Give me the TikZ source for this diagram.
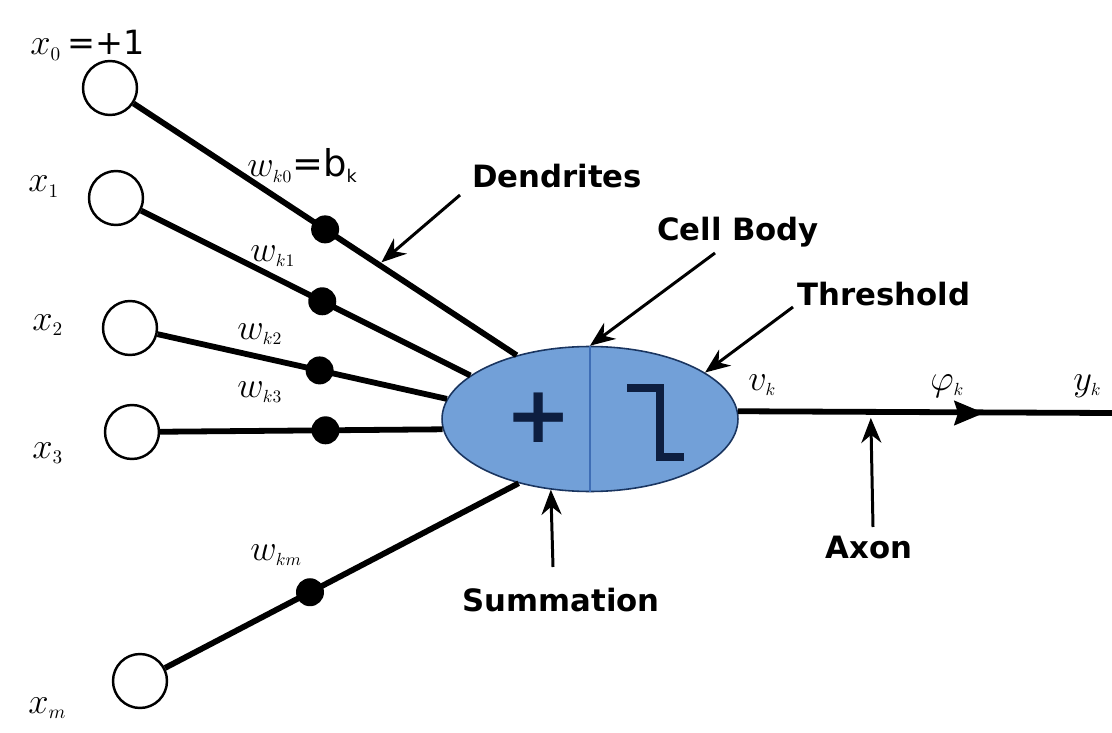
\documentclass[tikz,border=0pt]{standalone}
\usepackage{fontspec}
\setsansfont{DejaVu Sans}
\usetikzlibrary{shapes.geometric,arrows.meta}
\definecolor{cellfill}{HTML}{72A0D8}
\definecolor{celledge}{HTML}{1A3560}
\definecolor{celldiv}{HTML}{3E6DB5}
\definecolor{navy}{HTML}{0D1E40}
\begin{document}
\begin{tikzpicture}[x=0.02cm,y=-0.02cm,
  inp/.style={circle,draw,line width=1.4pt,minimum size=1.08cm,inner sep=0pt},
  wdot/.style={circle,fill=black,minimum size=0.56cm,inner sep=0pt},
  dend/.style={line width=3.3pt},
  lbl/.style={font=\sffamily\bfseries\fontsize{17.5}{20}\selectfont,inner sep=0pt},
  ann/.style={line width=1.7pt,-{Stealth[length=0.5cm,width=0.4cm]}},
  mlbl/.style={font=\fontsize{22}{26}\selectfont,anchor=base west,inner sep=0pt},
  wlbl/.style={font=\fontsize{20}{24}\selectfont,anchor=base west,inner sep=0pt}]
\useasboundingbox (0,0) rectangle (1112,733);
\fill[white] (0,0) rectangle (1112,733);

% input neurons
\node[inp] (in0) at (110,88) {};
\node[inp] (in1) at (116,198) {};
\node[inp] (in2) at (130,328) {};
\node[inp] (in3) at (132,432) {};
\node[inp] (inm) at (140,681) {};

% cell body
\node[ellipse,fill=cellfill,draw=celledge,line width=0.9pt,
      minimum width=5.92cm,minimum height=2.9cm,inner sep=0pt] (cell) at (590,419) {};
\draw[celldiv,line width=0.8pt] (cell.north) -- (cell.south);
\node[text=navy,font=\sffamily\bfseries\fontsize{45}{45}\selectfont,inner sep=0pt] (plus) at (539,418) {+};
\draw[navy,line width=5pt,line join=miter] (627,388) -- (660,388) -- (660,457) -- (684,457);

% dendrites with weights
\draw[dend] (in0) -- node[wdot,pos=0.50] (d0) {} coordinate[pos=0.64] (dtip) (cell.139);
\draw[dend] (in1) -- node[wdot,pos=0.55] (d1) {} (cell.160);
\draw[dend] (in2) -- node[wdot,pos=0.56] (d2) {} (cell.172);
\draw[dend] (in3) -- node[wdot,pos=0.585] (d3) {} (cell.184);
\draw[dend] (inm) -- node[wdot,pos=0.41] (dm) {} (cell.222);

% axon
\coordinate (axbase) at (950,413);
\coordinate (axmid) at (984,413);
\coordinate (yend) at (1112,413);
\draw[dend] (cell.3) -- coordinate[pos=0.355] (axtip) (yend);
\draw[line width=1pt,-{Stealth[length=0.6cm,width=0.5cm,inset=0.08cm]}] (axbase) -- (axmid);

% input labels
\node[mlbl] (lx0) at (30,55) {$x_{\scriptscriptstyle 0}$\,{\sffamily\fontsize{19}{22}\selectfont =+1}};
\node[mlbl] (lx1) at (28,192) {$x_{\scriptscriptstyle 1}$};
\node[mlbl] (lx2) at (32,330) {$x_{\scriptscriptstyle 2}$};
\node[mlbl] (lx3) at (32,458) {$x_{\scriptscriptstyle 3}$};
\node[mlbl] (lxm) at (28,713) {$x_{\scriptscriptstyle m}$};

% weight labels
\node[wlbl] (lw0) at (247,177) {$w_{\scriptscriptstyle k0}${\sffamily\fontsize{21}{24}\selectfont =b}$_{\scriptscriptstyle\mathsf{k}}$};
\node[wlbl] (lw1) at (250,261) {$w_{\scriptscriptstyle k1}$};
\node[wlbl] (lw2) at (237,339) {$w_{\scriptscriptstyle k2}$};
\node[wlbl] (lw3) at (237,397) {$w_{\scriptscriptstyle k3}$};
\node[wlbl] (lwm) at (250,560) {$w_{\scriptscriptstyle km}$};

% output labels
\node[wlbl] (lv) at (748,390) {$v_{\scriptscriptstyle k}$};
\node[wlbl] (lphi) at (930,390) {$\varphi_{\scriptscriptstyle k}$};
\node[wlbl] (ly) at (1073,390) {$y_{\scriptscriptstyle k}$};

% annotations
\node[lbl] (tden) at (557,176) {Dendrites};
\node[lbl] (tcell) at (738,232) {Cell Body};
\node[lbl] (tthr) at (884,294) {Threshold};
\node[lbl] (tsum) at (561,600) {Summation};
\node[lbl] (taxon) at (869,548) {Axon};

\coordinate (aden) at (460,195);
\coordinate (acell) at (715,253);
\coordinate (athr) at (793,307);
\coordinate (asum) at (553,567);
\coordinate (aaxon) at (873,527);
\draw[ann,shorten >=2pt] (aden) -- (dtip);
\draw[ann] (acell) -- (cell.north);
\draw[ann] (athr) -- (cell.22);
\draw[ann] (asum) -- (cell.241);
\draw[ann,shorten >=0.12cm] (aaxon) -- (axtip);
\end{tikzpicture}
\end{document}
